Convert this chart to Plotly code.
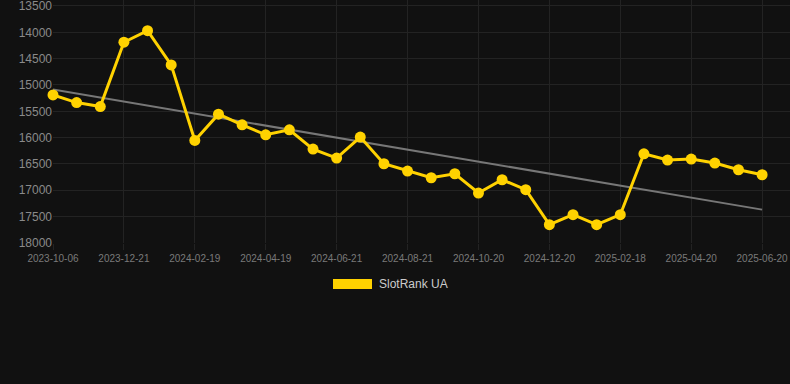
import numpy as np
import plotly.graph_objects as go

dates = [
    "2023-10-06", "2023-10-31", "2023-11-26", "2023-12-21", "2024-01-10", "2024-01-30",
    "2024-02-19", "2024-03-10", "2024-03-30", "2024-04-19", "2024-05-10", "2024-05-31",
    "2024-06-21", "2024-07-11", "2024-07-31", "2024-08-21", "2024-09-10", "2024-09-30",
    "2024-10-20", "2024-11-09", "2024-11-30", "2024-12-20", "2025-01-09", "2025-01-29",
    "2025-02-18", "2025-03-10", "2025-03-31", "2025-04-20", "2025-05-10", "2025-05-31",
    "2025-06-20",
]
ranks = [
    15188, 15334, 15410, 14188, 13968, 14619, 16054, 15554, 15757, 15946, 15851, 16217,
    16388, 15990, 16496, 16635, 16762, 16686, 17052, 16800, 16989, 17653, 17463, 17653,
    17463, 16307, 16426, 16407, 16483, 16610, 16705,
]
tick_labels = dates[::3]
y_ticks = [13500, 14000, 14500, 15000, 15500, 16000, 16500, 17000, 17500, 18000]
series_name = "SlotRank UA"

idx = np.arange(len(ranks))
slope, intercept = np.polyfit(idx, ranks, 1)
trend = (slope * idx + intercept).tolist()

YELLOW = "#FFD200"
BG = "#111111"
GRID = "#232323"

# plot area spans y = 0 .. 243 px; 13500 sits at y = 6 px
PX_PER_UNIT = 237.3 / 4500
y_top = 13500 - 6 / PX_PER_UNIT
PLOT_H = 243

fig = go.Figure()
fig.add_trace(go.Scatter(
    x=dates, y=trend, mode="lines",
    line=dict(color="#777777", width=2),
    showlegend=False, hoverinfo="skip",
))
fig.add_trace(go.Scatter(
    x=dates, y=ranks, mode="lines+markers", name=series_name,
    line=dict(color=YELLOW, width=3),
    marker=dict(color=YELLOW, size=11),
    showlegend=False, cliponaxis=False,
))

fig.update_layout(
    width=790, height=384,
    paper_bgcolor=BG, plot_bgcolor=BG,
    margin=dict(l=53, r=0, t=0, b=384 - PLOT_H),
    font=dict(family="Arial, Liberation Sans, sans-serif", color="#888888"),
    xaxis=dict(
        type="category", categoryorder="array", categoryarray=dates,
        range=[0, 31.18],
        tickmode="array", tickvals=tick_labels, ticktext=tick_labels,
        tickfont=dict(size=10, color="#7a7a7a"),
        showgrid=True, gridcolor=GRID, gridwidth=1,
        zeroline=False, showline=False,
        ticks="outside", ticklen=6, tickcolor=GRID,
        ticklabeloverflow="allow",
    ),
    yaxis=dict(
        range=[18001, y_top],
        tickmode="array", tickvals=y_ticks, ticktext=[str(v) for v in y_ticks],
        tickfont=dict(size=12, color="#8a8a8a"),
        showgrid=True, gridcolor=GRID, gridwidth=1,
        zeroline=False, showline=False, ticklen=0,
        ticklabeloverflow="allow",
    ),
    shapes=[dict(
        type="rect", xref="paper", yref="paper",
        x0=(333 - 53) / 737, x1=(372 - 53) / 737,
        y0=(PLOT_H - 289) / PLOT_H, y1=(PLOT_H - 279) / PLOT_H,
        fillcolor=YELLOW, line=dict(width=0),
    )],
    annotations=[dict(
        text=series_name, xref="paper", yref="paper",
        x=(377 - 53) / 737, y=(PLOT_H - 284) / PLOT_H,
        xanchor="left", yanchor="middle", showarrow=False,
        font=dict(size=12, color="#cccccc"),
    )],
)

fig.write_html("out.html", config={"displayModeBar": False})
with open("out.html", "r", encoding="utf-8") as f:
    html = f.read()
html = html.replace("<head>", "<head><style>html,body{margin:0;padding:0;background:#111111;overflow:hidden;}</style>", 1)
with open("out.html", "w", encoding="utf-8") as f:
    f.write(html)
